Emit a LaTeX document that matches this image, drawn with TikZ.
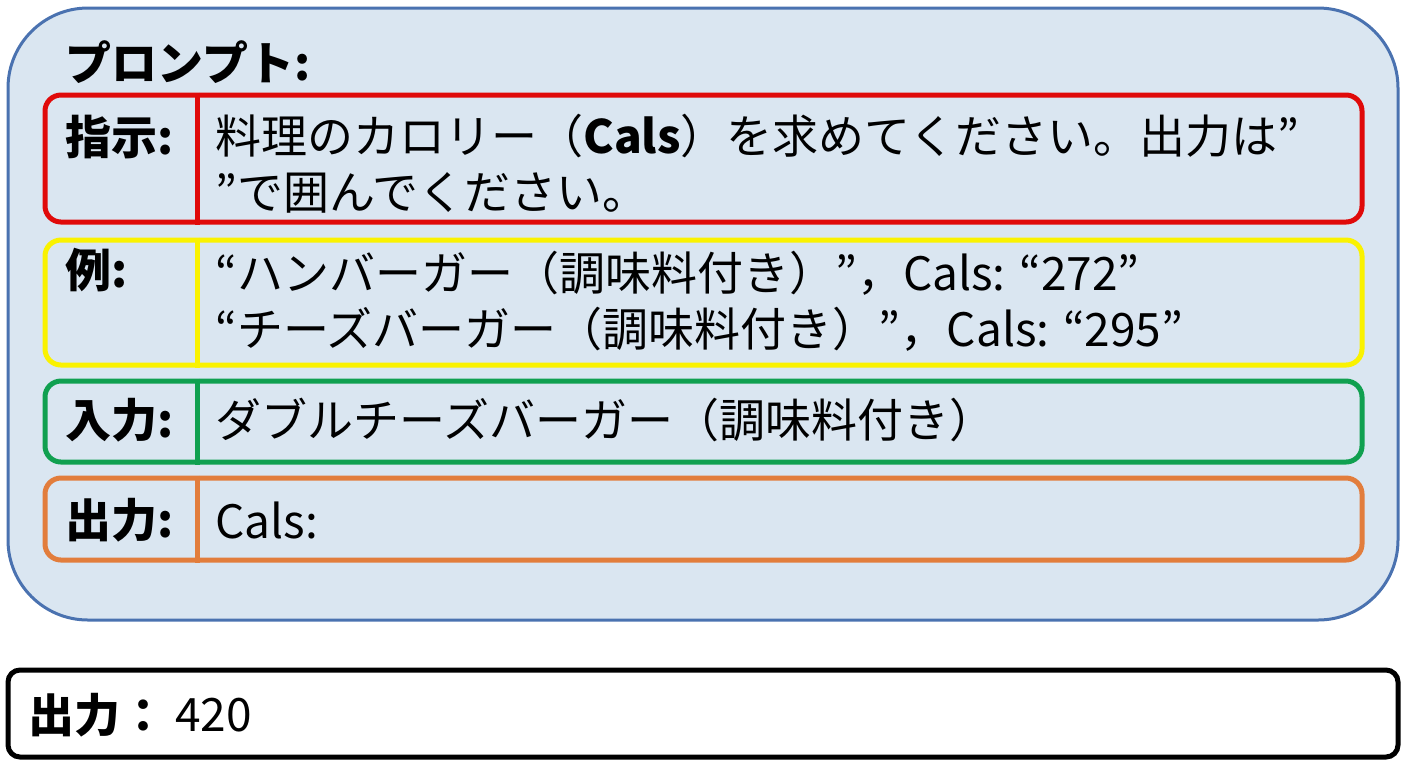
\documentclass[tikz,border=0pt]{standalone}
\usepackage{fontspec}
\setmainfont{Noto Sans CJK JP}
\usetikzlibrary{positioning}
\definecolor{promptfill}{HTML}{DAE6F1}
\definecolor{promptblue}{HTML}{4A72B0}
\definecolor{instrred}{HTML}{E00A0A}
\definecolor{exyellow}{HTML}{FAF200}
\definecolor{ingreen}{HTML}{10A050}
\definecolor{outorange}{HTML}{E27D3C}

\tikzset{
  outerbox/.style={draw=promptblue,fill=promptfill,line width=1.5pt,rounded corners=40pt,
    minimum width=695pt,minimum height=306pt,inner sep=0pt},
  rowbox/.style={draw,line width=2.5pt,rounded corners=8pt,minimum width=658.5pt,inner sep=0pt},
  rowlabel/.style={anchor=west,inner sep=0pt,font=\bfseries\fontsize{23}{27}\selectfont},
  rowtext/.style={anchor=west,align=left,inner sep=0pt,font=\fontsize{23}{28}\selectfont}
}

\begin{document}
\begin{tikzpicture}[x=0.5pt,y=-0.5pt]
  \useasboundingbox (0,0) rectangle (1408,768);

  % prompt frame
  \node[outerbox] (prompt) at (703,314) {};
  \node[rowlabel] (title) at (65,62) {プロンプト:};

  % rows
  \node[rowbox,draw=instrred,minimum height=63.5pt] (instr) at (703.5,158.5) {};
  \node[rowbox,draw=exyellow,minimum height=62.5pt] (ex) at (703.5,302.5) {};
  \node[rowbox,draw=ingreen,minimum height=40.5pt] (in) at (703.5,421.5) {};
  \node[rowbox,draw=outorange,minimum height=41pt] (out) at (703.5,519) {};

  \draw[instrred,line width=2.5pt] ([xshift=77.5pt]instr.north west) -- ([xshift=77.5pt]instr.south west);
  \draw[exyellow,line width=2.5pt] ([xshift=77.5pt]ex.north west) -- ([xshift=77.5pt]ex.south west);
  \draw[ingreen,line width=2.5pt] ([xshift=77.5pt]in.north west) -- ([xshift=77.5pt]in.south west);
  \draw[outorange,line width=2.5pt] ([xshift=77.5pt]out.north west) -- ([xshift=77.5pt]out.south west);

  \node[rowlabel] (instr_label) at (65,137) {指示:};
  \node[rowtext] (instr_text) at (215,164) {料理のカロリー（\textbf{Cals}）を求めてください。出力は”\\”で囲んでください。};

  \node[rowlabel] (ex_label) at (65,270) {例:};
  \node[rowtext] (ex_text) at (215,301) {“ハンバーガー（調味料付き）”，Cals: “272”\\“チーズバーガー（調味料付き）”，Cals: “295”};

  \node[rowlabel] (in_label) at (65,420) {入力:};
  \node[rowtext] (in_text) at (215,420) {ダブルチーズバーガー（調味料付き）};

  \node[rowlabel] (out_label) at (65,520) {出力:};
  \node[rowtext] (out_text) at (215,520) {Cals:};

  % model answer
  \node[draw,line width=2.5pt,rounded corners=6pt,minimum width=695pt,minimum height=43.5pt,inner sep=0pt] (answer) at (703,713.5) {};
  \node[rowlabel] (answer_label) at (28,715) {出力：};
  \node[rowtext] (answer_text) at (175,715) {420};
\end{tikzpicture}
\end{document}
